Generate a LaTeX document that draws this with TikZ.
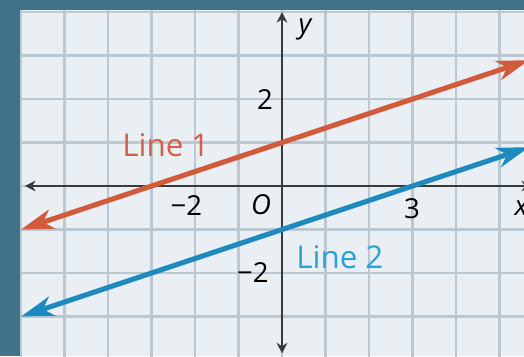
\documentclass[tikz,border=0pt]{standalone}
\usepackage{fontspec}
\setmainfont{Open Sans}
\usetikzlibrary{arrows.meta}
\definecolor{teal}{HTML}{3F7389}
\definecolor{bgc}{HTML}{E9EFF3}
\definecolor{gridc}{HTML}{BCC8D1}
\definecolor{axisc}{HTML}{3A3A3A}
\definecolor{redline}{HTML}{D25B3C}
\definecolor{blueline}{HTML}{1C89BF}
\definecolor{redtext}{HTML}{D65F47}
\definecolor{bluetext}{HTML}{2AA2D4}
\tikzset{
  gridline/.style={draw=gridc, line width=1.4pt},
  axisline/.style={draw=axisc, line width=1pt, {Stealth[length=7pt,width=7pt]}-{Stealth[length=7pt,width=7pt]}},
  graphline/.style={line width=3.3pt, {Stealth[length=0.75cm,width=0.46cm,inset=0.22cm]}-{Stealth[length=0.75cm,width=0.46cm,inset=0.22cm]}},
  ticklabel/.style={font=\fontsize{18}{20}\selectfont, text=black, inner sep=0pt},
  linelabel/.style={font=\fontsize{20.5}{22}\selectfont, inner sep=0pt}
}
\begin{document}
\begin{tikzpicture}
\useasboundingbox (-6.483,-3.908) rectangle (5.563,4.276);
\clip (-6.483,-3.908) rectangle (5.563,4.276);
% background
\fill[bgc] (-6.483,-3.908) rectangle (5.563,4.276);
% grid
\foreach \x in {-6,...,5} \draw[gridline] (\x,-3.95) -- (\x,4.3);
\foreach \y in {-3,...,4} \draw[gridline] (-6.5,\y) -- (5.6,\y);
% border
\fill[teal] (-6.483,-3.908) rectangle (-6.023,4.276);
\fill[teal] (-6.483,4.046) rectangle (5.563,4.276);
% axes
\coordinate (xl) at (-5.91,0);
\coordinate (xr) at (5.75,0);
\coordinate (yb) at (0,-3.85);
\coordinate (yt) at (0,4.0);
\draw[axisline] (xl) -- (xr);
\draw[axisline] (yb) -- (yt);
% lines
\coordinate (a1) at (-6,-1);
\coordinate (b1) at (5.68,2.893);
\coordinate (a2) at (-6,-3);
\coordinate (b2) at (5.68,0.893);
\draw[graphline, draw=redline, fill=redline] (a1) -- (b1);
\draw[graphline, draw=blueline, fill=blueline] (a2) -- (b2);
% labels
\node[ticklabel] (ly) at (0.53,3.59) {\itshape y};
\node[ticklabel] (lx) at (5.5,-0.50) {\itshape x};
\node[ticklabel] (l2) at (-0.39,1.98) {2};
\node[ticklabel] (lm2y) at (-0.67,-2.0) {−2};
\node[ticklabel] (lm2x) at (-2.2,-0.44) {−2};
\node[ticklabel] (lo) at (-0.48,-0.44) {\itshape O};
\node[ticklabel] (l3) at (2.99,-0.53) {3};
\node[linelabel, text=redtext] (line1) at (-2.67,0.94) {Line 1};
\node[linelabel, text=bluetext] (line2) at (1.33,-1.63) {Line 2};
\end{tikzpicture}
\end{document}
